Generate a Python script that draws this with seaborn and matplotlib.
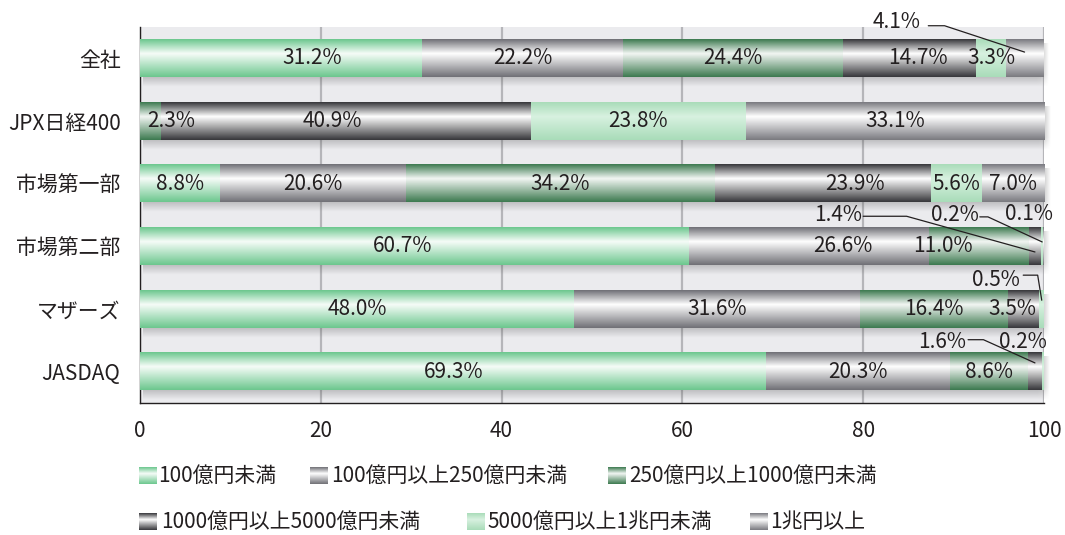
import numpy as np
import matplotlib
matplotlib.use("Agg")
import matplotlib.pyplot as plt
from matplotlib.colors import LinearSegmentedColormap
import seaborn as sns

# ---- data -------------------------------------------------------------
categories = ["全社", "JPX日経400", "市場第一部", "市場第二部", "マザーズ", "JASDAQ"]
series_names = ["100億円未満", "100億円以上250億円未満", "250億円以上1000億円未満",
                "1000億円以上5000億円未満", "5000億円以上1兆円未満", "1兆円以上"]
under_100 = [31.2, 0.0, 8.8, 60.7, 48.0, 69.3]
from_100_to_250 = [22.2, 0.0, 20.6, 26.6, 31.6, 20.3]
from_250_to_1000 = [24.4, 2.3, 34.2, 11.0, 16.4, 8.6]
from_1000_to_5000 = [14.7, 40.9, 23.9, 1.4, 3.5, 1.6]
from_5000_to_1cho = [3.3, 23.8, 5.6, 0.2, 0.5, 0.2]
over_1cho = [4.1, 33.1, 7.0, 0.1, 0.0, 0.0]
x_ticks = [0, 20, 40, 60, 80, 100]

# ---- style ------------------------------------------------------------
sns.set_theme(style="white")
plt.rcParams["font.family"] = ["Noto Sans CJK JP", "DejaVu Sans"]
TEXT = "#231f20"
FS = 15

# (edge colour, middle colour) of the cylinder-like vertical gradient
shades = [("#6cc78e", "#f6fcf8"), ("#707076", "#ffffff"), ("#3d7a50", "#f2f6f3"),
          ("#37373b", "#ffffff"), ("#a9dcb9", "#d8f1e0"), ("#7a7a80", "#ffffff")]
cmaps = [LinearSegmentedColormap.from_list(f"s{i}", [(0, e), (0.38, m), (1, e)])
         for i, (e, m) in enumerate(shades)]
grad = np.linspace(0, 1, 120).reshape(-1, 1)

# labels that are moved off the segment centre (some with leader lines)
# key (category, series): (text x, text y, leader knee points, leader end dy)
label_layout = {
    (0, 0): (19.0, 0.0, None, None),
    (0, 3): (86.0, 0.0, None, None),
    (0, 5): (83.7, -0.58, [(87.2, -0.52), (89.0, -0.52)], -0.10),
    (1, 2): (3.4, 1.0, None, None),
    (1, 3): (21.3, 1.0, None, None),
    (2, 3): (79.1, 2.0, None, None),
    (3, 0): (29.0, 3.0, None, None),
    (3, 1): (77.8, 3.0, None, None),
    (3, 2): (88.8, 3.0, None, None),
    (3, 3): (77.2, 2.50, [(80.0, 2.52), (84.8, 2.52)], 0.09),
    (3, 4): (90.2, 2.50, [(92.9, 2.53), (93.8, 2.53)], -0.07),
    (3, 5): (98.3, 2.48, None, None),
    (4, 3): (96.5, 4.0, None, None),
    (4, 4): (94.7, 3.54, [(97.7, 3.46), (99.3, 3.46)], -0.14),
    (5, 3): (88.7, 4.53, [(91.6, 4.49), (93.3, 4.49)], -0.14),
    (5, 4): (97.7, 4.53, None, None),
}

values = np.array([under_100, from_100_to_250, from_250_to_1000,
                   from_1000_to_5000, from_5000_to_1cho, over_1cho])
cum = values.cumsum(axis=0)
n = len(series_names)

fig = plt.figure(figsize=(10.65, 5.35), dpi=100)
ax = fig.add_axes([140 / 1065, 1 - 403 / 535, 904 / 1065, 376 / 535])
ax.set_facecolor("#ebebee")

# stacked bars: cumulative totals drawn from the last series backwards
for i in range(n - 1, -1, -1):
    sns.barplot(x=cum[i], y=categories, order=categories, orient="h",
                width=0.6, color=shades[i][0], ax=ax)

# drop shadow under each full bar
shadow_rgba = np.zeros((60, 220, 4))
ty = np.linspace(0, 1, 60)
tx = np.linspace(0, 1, 220)
ay = np.interp(ty, [0, 0.72, 1], [0.38, 0.38, 0.0])
ax_ = np.interp(tx, [0, 0.99, 1], [1.0, 1.0, 0.0])
shadow_rgba[..., :3] = 0.35
shadow_rgba[..., 3] = ay[:, None] * ax_[None, :]
for patch in ax.containers[0].patches:
    y0, h = patch.get_y(), patch.get_height()
    im = ax.imshow(shadow_rgba, extent=(0.3, patch.get_width() + 0.8, y0 + h + 0.16, y0 + 0.06),
                   aspect="auto", zorder=2.5, interpolation="bilinear")
    im.set_clip_on(False)

# replace flat bars by gradient segments
for i in range(n):
    cont = ax.containers[n - 1 - i]
    for j, patch in enumerate(cont.patches):
        patch.set_visible(False)
        y0, h = patch.get_y(), patch.get_height()
        right = patch.get_width()
        left = cum[i - 1][j] if i > 0 else 0.0
        if right - left <= 0:
            continue
        ax.imshow(grad, cmap=cmaps[i], extent=(left, right, y0 + h, y0),
                  aspect="auto", zorder=3, interpolation="bilinear")

        label = f"{values[i][j]:.1f}%"
        if (j, i) in label_layout:
            tx_, ty_, knee, dy = label_layout[(j, i)]
            ax.text(tx_, ty_, label, ha="center", va="center", fontsize=FS,
                    color=TEXT, zorder=5)
            if knee is not None:
                pts = knee + [((left + right) / 2, j + dy)]
                ax.plot([p[0] for p in pts], [p[1] for p in pts], color="#231f20",
                        lw=0.9, zorder=5, clip_on=False)
        else:
            ax.text((left + right) / 2, j, label, ha="center", va="center",
                    fontsize=FS, color=TEXT, zorder=5)

ax.set_xlim(0, 100)
ax.set_ylim(5.5, -0.5)
ax.set_xlabel("")
ax.set_ylabel("")
ax.set_xticks(x_ticks)
ax.set_xticklabels([str(t) for t in x_ticks])
ax.xaxis.grid(True, color="#b5b5b9", lw=1.6)
ax.yaxis.grid(False)
ax.set_axisbelow(True)
for side in ["top", "right"]:
    ax.spines[side].set_visible(False)
for side in ["left", "bottom"]:
    ax.spines[side].set_color("#231f20")
    ax.spines[side].set_linewidth(1.0)
ax.tick_params(axis="x", length=0, pad=12, labelsize=FS, labelcolor=TEXT)
ax.tick_params(axis="y", which="major", length=0, pad=14, labelsize=FS, labelcolor=TEXT)
ax.set_yticks(np.arange(0.5, len(categories) - 1), minor=True)
ax.tick_params(axis="y", which="minor", direction="in", length=6, width=1, color="#333333")

# legend laid out in two free-flowing rows like the original
leg = fig.add_axes([0, 0, 1, 1])
leg.set_xlim(0, 1065)
leg.set_ylim(535, 0)
leg.axis("off")
legend_slots = [(139, 476, 158), (310, 476, 331), (608, 476, 629),
                (139, 522, 161), (467, 522, 487), (750, 522, 770)]
for i, (px, py, tx_) in enumerate(legend_slots):
    leg.imshow(grad, cmap=cmaps[i], extent=(px, px + 18, py + 8, py - 9),
               aspect="auto", interpolation="bilinear")
    leg.text(tx_, py, series_names[i], ha="left", va="center", fontsize=FS, color=TEXT)
leg.set_xlim(0, 1065)
leg.set_ylim(535, 0)

fig.savefig("out.png", dpi=100)
